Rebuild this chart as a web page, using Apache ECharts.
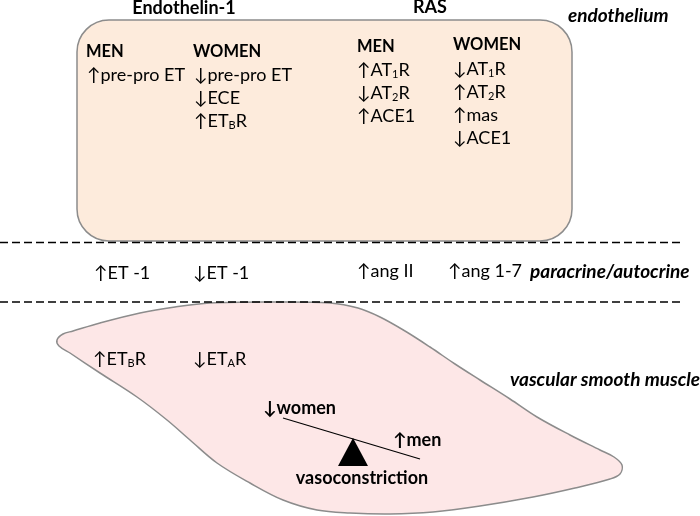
<!DOCTYPE html>
<html><head><meta charset="utf-8">
<script src="https://cdn.jsdelivr.net/npm/echarts@6/dist/echarts.min.js"></script>
<style>html,body{margin:0;padding:0;background:#fff}#c{width:700px;height:516px}</style>
</head><body><div id="c"></div>
<script>
// ---- text content ----
const groupTitles = ['Endothelin-1', 'RAS'];
const sexTitles = ['MEN', 'WOMEN', 'MEN', 'WOMEN'];
const etMen = ['↑pre-pro ET'];
const etWomen = ['↓pre-pro ET', '↓ECE', '↑ET{s|B}R'];
const rasMen = ['↑AT{s|1}R', '↓AT{s|2}R', '↑ACE1'];
const rasWomen = ['↓AT{s|1}R', '↑AT{s|2}R', '↑mas', '↓ACE1'];
const paracrine = ['↑ET -1', '↓ET -1', '↑ang II', '↑ang 1-7'];
const muscleReceptors = ['↑ET{s|B}R', '↓ET{s|A}R'];
const balanceLabels = ['↓women', '↑men', 'vasoconstriction'];
const layerLabels = ['endothelium', 'paracrine/autocrine', 'vascular smooth muscle'];

// ---- anchor points (diagram coordinates, x right / y down) ----
const groupTitlePos = [[184, 8], [430, 7]];
const sexTitlePos = [[86, 52], [193, 52], [357, 47], [453, 45]];
const listStart = { etMen: [87, 75], etWomen: [194, 75], rasMen: [357, 70], rasWomen: [453, 69] };
const listStep = 23;
const paracrinePos = [[94, 273], [193, 273], [357, 271], [448, 271]];
const musclePos = [[93, 359], [193, 359]];
const balancePos = [[263, 408], [393, 440], [362, 478]];
const layerPos = [[568, 16], [530, 272], [510, 380]];

// ---- shapes ----
const endotheliumBox = [77, 20, 572, 241];
const dashY = [242.5, 302];
const dashX = [0, 680];
const muscleOutline = [
  [57, 340], [63, 334], [73, 331], [100, 323], [140, 313], [175, 307], [210, 303], [270, 302],
  [330, 303], [358, 308], [380, 317], [405, 331], [430, 347], [455, 364], [480, 380], [510, 399],
  [537, 417], [570, 435], [600, 450], [614, 457], [622, 465], [620, 474], [610, 479], [575, 488],
  [533, 497], [480, 506], [433, 512], [390, 514], [350, 513], [317, 510], [283, 500], [250, 483],
  [217, 463], [190, 440], [167, 420], [137, 397], [100, 373], [70, 353], [59, 346]
];
const seesaw = [[283, 418], [420, 459]];
const fulcrum = [[353, 438], [338, 466], [368, 466]];

const FONT = 'Lato, "DejaVu Sans", sans-serif';
const rich = { s: { fontSize: 11, fontFamily: FONT, fill: '#000', verticalAlign: 'bottom', lineHeight: 11, padding: [12, 0, 0, 0] } };

const texts = [];
function add(list, pos, font, align) {
  list.forEach((t, i) => texts.push({ t, p: pos[i], f: font, a: align }));
}
const F_GROUP = 'bold 18px ' + FONT;
const F_SEX = 'bold 16.5px ' + FONT;
const F_ITEM = '18px ' + FONT;
const F_BAL = 'bold 18px ' + FONT;
const F_LAYER = 'italic bold 19px ' + FONT;

add(groupTitles, groupTitlePos, F_GROUP, 'center');
add(sexTitles, sexTitlePos, F_SEX, 'left');
[['etMen', etMen], ['etWomen', etWomen], ['rasMen', rasMen], ['rasWomen', rasWomen]].forEach(([k, list]) => {
  list.forEach((t, i) => texts.push({ t, p: [listStart[k][0], listStart[k][1] + i * listStep], f: F_ITEM, a: 'left' }));
});
add(paracrine, paracrinePos, F_ITEM, 'left');
add(muscleReceptors, musclePos, F_ITEM, 'left');
add(balanceLabels.slice(0, 2), balancePos.slice(0, 2), F_BAL, 'left');
texts.push({ t: balanceLabels[2], p: balancePos[2], f: F_BAL, a: 'center' });
add(layerLabels, layerPos, F_LAYER, 'left');

const chart = echarts.init(document.getElementById('c'), null, { renderer: 'canvas' });
const GRAY = '#8c8c8c';

chart.setOption({
  animation: false,
  grid: { left: 0, right: 0, top: 0, bottom: 0 },
  xAxis: { type: 'value', min: 0, max: 700, show: false },
  yAxis: { type: 'value', min: 0, max: 516, inverse: true, show: false },
  series: [
    { // endothelium box
      type: 'custom', z: 1, silent: true,
      data: [endotheliumBox],
      renderItem: (params, api) => {
        const a = api.coord([api.value(0), api.value(1)]);
        const b = api.coord([api.value(2), api.value(3)]);
        return { type: 'rect', shape: { x: a[0], y: a[1], width: b[0] - a[0], height: b[1] - a[1], r: 32 },
          style: { fill: '#FDEBDC', stroke: GRAY, lineWidth: 1.5 } };
      }
    },
    { // smooth muscle cell
      type: 'custom', z: 1, silent: true,
      data: muscleOutline,
      renderItem: (params, api) => {
        if (params.dataIndex !== 0) return null;
        const pts = muscleOutline.map(p => api.coord(p));
        return { type: 'polygon', shape: { points: pts, smooth: 0.35 },
          style: { fill: '#FDE7E7', stroke: GRAY, lineWidth: 1.5 } };
      }
    },
    ...dashY.map(y => ({
      type: 'line', z: 2, silent: true, symbol: 'none',
      data: [[dashX[0], y], [dashX[1], y]],
      lineStyle: { color: '#000', width: 1.5, type: [8, 4] }
    })),
    { // seesaw beam
      type: 'line', z: 3, silent: true, symbol: 'none',
      data: seesaw, lineStyle: { color: '#000', width: 1.2 }
    },
    { // fulcrum
      type: 'custom', z: 3, silent: true,
      data: fulcrum,
      renderItem: (params, api) => {
        if (params.dataIndex !== 0) return null;
        return { type: 'polygon', shape: { points: fulcrum.map(p => api.coord(p)) }, style: { fill: '#000' } };
      }
    },
    { // texts
      type: 'custom', z: 5, silent: true,
      data: texts.map(d => d.p),
      renderItem: (params, api) => {
        const d = texts[params.dataIndex];
        const pt = api.coord([api.value(0), api.value(1)]);
        return { type: 'text', x: pt[0], y: pt[1],
          style: { text: d.t, font: d.f, fill: '#000', align: d.a, verticalAlign: 'middle', lineHeight: 20, rich } };
      }
    }
  ]
});
</script></body></html>
